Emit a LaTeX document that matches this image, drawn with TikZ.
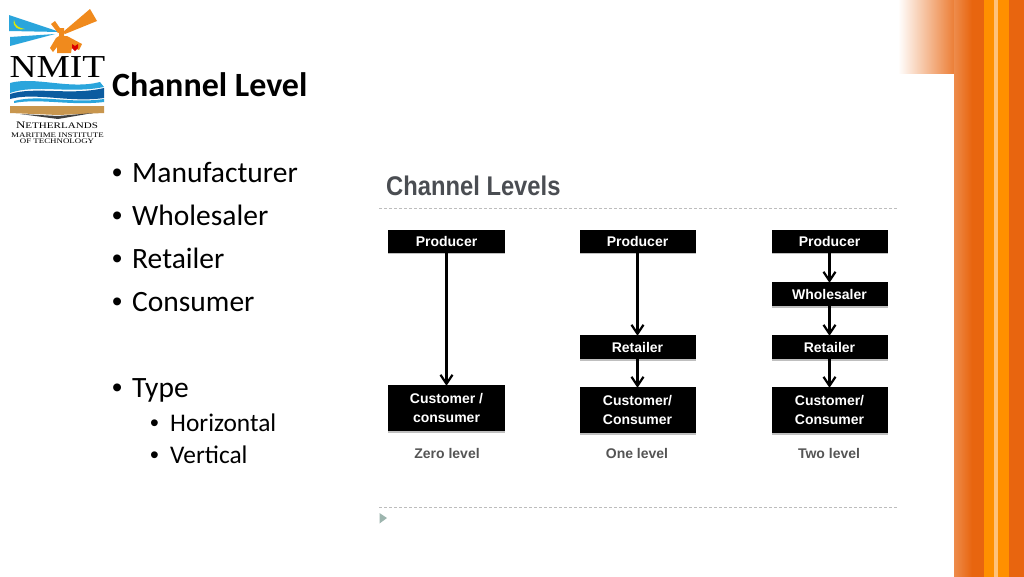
\documentclass[tikz,border=0pt]{standalone}
\usepackage{fontspec}
\setmainfont{Carlito}
\newfontfamily\diagfont{Liberation Sans}
\newfontfamily\logofont{Liberation Serif}
\usetikzlibrary{calc,arrows.meta,shadows}
\definecolor{bandorange}{HTML}{E8650F}
\definecolor{stripeorange}{HTML}{FF9000}
\definecolor{stripelight}{HTML}{FFC27A}
\definecolor{beamcyan}{HTML}{2AA5DC}
\definecolor{lampdark}{HTML}{F08A1D}
\definecolor{wavedark}{HTML}{0B5CA0}
\definecolor{booktan}{HTML}{C8964E}
\definecolor{headgrey}{HTML}{4A4D52}
\definecolor{labelgrey}{HTML}{555555}
\definecolor{dashgrey}{HTML}{BDBDBD}
\definecolor{markgrey}{HTML}{9DB5AE}
\tikzset{
  levelbox/.style={fill=black, text=white, font=\diagfont\fontsize{14}{19}\selectfont\bfseries, align=center,
    inner sep=0pt, drop shadow={shadow xshift=0pt, shadow yshift=-1.5pt, opacity=.25, fill=black}},
  levelname/.style={text=labelgrey, font=\diagfont\fontsize{14}{17}\selectfont\bfseries},
  bulletone/.style={anchor=base west, inner sep=0pt, font=\fontsize{29.5}{34}\selectfont},
  bullettwo/.style={anchor=base west, inner sep=0pt, font=\fontsize{25.4}{28}\selectfont},
  bulletdot/.style={anchor=base west, inner sep=0pt, font=\diagfont\fontsize{29}{34}\selectfont},
  subdot/.style={anchor=base west, inner sep=0pt, font=\diagfont\fontsize{25}{28}\selectfont},
  levelline/.style={dashgrey, densely dashed, line width=0.8pt},
  levelarrow/.style={-{Straight Barb[length=9pt,width=12pt,line width=2.2pt]}, line width=2.4pt, shorten >=-1pt}
}
\begin{document}
\begin{tikzpicture}[x=1pt, y=-1pt]
        \useasboundingbox (0,0) rectangle (1024,576);
        \fill[white] (0,0) rectangle (1024,580);

        % orange band on the right
        \shade[left color=white, right color=bandorange!85] (898,0) rectangle (955,73);
        \shade[left color=bandorange!75, right color=bandorange] (954,0) rectangle (972,580);
        \fill[bandorange] (972,0) rectangle (1026,580);
        \fill[stripeorange] (984,0) rectangle (1009,580);
        \fill[stripelight] (994,0) rectangle (998,580);

        % logo
        \fill[beamcyan] (9,15) -- (60,32) -- (9,31) -- cycle;
        \fill[beamcyan] (10,37) -- (55,34) -- (10,46) -- cycle;
        \fill[yellow!85!green] (14,20) .. controls (12,27) and (19,31) .. (25,29) .. controls (19,28) and (15,26) .. (14,20) -- cycle;
        \fill[lampdark] (63,32) -- (90,9) -- (97,21) -- (65,34) -- cycle;
        \fill[lampdark] (51,24) -- (55,21) -- (62,31) -- (58,33) -- cycle;
        \fill[lampdark] (59,28) -- (64,28) -- (64,36) -- (67,36) -- (82,44) -- (79,50) -- (72,47) -- (71,53) -- (57,53) -- (57,47) -- (53,52) -- (50,48) -- (56,38) -- (59,36) -- cycle;
        \fill[red!85!black] (72,44) -- (75,46) -- (78,44) -- (78,48) -- (75,51) -- (72,48) -- cycle;
        \node[inner sep=0pt, font=\logofont\fontsize{32}{32}\selectfont] (nmit) at (57.5,67) {\scalebox{1.17}[1]{NMIT}};
        \fill[beamcyan] (10,83) .. controls (35,76) and (70,90) .. (100,82) -- (104,87) .. controls (70,94) and (35,84) .. (10,93) -- cycle;
        \fill[wavedark] (10,94) .. controls (35,86) and (70,96) .. (104,88) -- (104,98) .. controls (70,103) and (35,92) .. (10,99) -- cycle;
        \fill[beamcyan] (14,101) .. controls (40,94) and (70,104) .. (104,99) -- (104,102) .. controls (70,106) and (40,98) .. (14,103) -- cycle;
        \fill[booktan] (10,106) -- (104,106) -- (104,113) -- (58,115) -- (10,113) -- cycle;
        \fill[black!75] (20,114) -- (58,116) -- (93,113) -- (58,119) -- cycle;
        \node[inner sep=0pt, font=\logofont\fontsize{10}{11}\selectfont] (nether) at (57,125) {\scalebox{1.3}[1]{N{\fontsize{8.5}{9}\selectfont ETHERLANDS}}};
        \node[inner sep=0pt, font=\logofont\fontsize{7}{7}\selectfont] (inst) at (57.5,135.5) {\scalebox{1.27}[1]{MARITIME INSTITUTE}};
        \node[inner sep=0pt, font=\logofont\fontsize{7}{7}\selectfont] (tech) at (57,141.5) {\scalebox{1.27}[1]{OF TECHNOLOGY}};

        % left text
        \node[anchor=base west, inner sep=0pt, font=\fontsize{34}{40}\selectfont\bfseries] (title) at (112,96) {Channel Level};
        \node[bulletdot] (b1) at (112,182) {•};
        \node[bulletone] (t1) at (132,182) {Manufacturer};
        \node[bulletdot] (b2) at (112,225) {•};
        \node[bulletone] (t2) at (132,225) {Wholesaler};
        \node[bulletdot] (b3) at (112,268) {•};
        \node[bulletone] (t3) at (132,268) {Retailer};
        \node[bulletdot] (b4) at (112,311) {•};
        \node[bulletone] (t4) at (132,311) {Consumer};
        \node[bulletdot] (b5) at (112,397) {•};
        \node[bulletone] (t5) at (132,397) {Type};
        \node[subdot] (b6) at (150,431) {•};
        \node[bullettwo] (t6) at (170,431) {Horizontal};
        \node[subdot] (b7) at (150,463) {•};
        \node[bullettwo] (t7) at (170,463) {Vertical};

        % channel levels figure
        \node[anchor=base west, inner sep=0pt, text=headgrey, font=\diagfont\fontsize{27}{30}\selectfont\bfseries] (head) at (386,195) {\scalebox{.88}[1]{Channel Levels}};
        \coordinate (ruleAl) at (379,208);
        \coordinate (ruleAr) at (897,208);
        \coordinate (ruleBl) at (379,507);
        \coordinate (ruleBr) at (897,507);
        \draw[levelline] (ruleAl) -- (ruleAr);
        \draw[levelline] (ruleBl) -- (ruleBr);
        \fill[markgrey] (379.5,513) -- (387,518) -- (379.5,523.5) -- cycle;

        \node[levelbox, minimum width=117pt, minimum height=23pt] (prodA) at (446.5,241) {Producer};
        \node[levelbox, minimum width=117pt, minimum height=46pt] (custA) at (446.5,408) {Customer /\\consumer};
        \node[levelname] (nameA) at (447,453) {Zero level};

        \node[levelbox, minimum width=116pt, minimum height=23pt] (prodB) at (637.5,241) {Producer};
        \node[levelbox, minimum width=116pt, minimum height=24pt] (retB) at (637.5,347) {Retailer};
        \node[levelbox, minimum width=116pt, minimum height=46pt] (custB) at (637.5,410) {Customer/\\Consumer};
        \node[levelname] (nameB) at (637,453) {One level};

        \node[levelbox, minimum width=116pt, minimum height=23pt] (prodC) at (829.5,241) {Producer};
        \node[levelbox, minimum width=116pt, minimum height=24pt] (wholeC) at (829.5,294) {Wholesaler};
        \node[levelbox, minimum width=116pt, minimum height=24pt] (retC) at (829.5,347) {Retailer};
        \node[levelbox, minimum width=116pt, minimum height=46pt] (custC) at (829.5,410) {Customer/\\Consumer};
        \node[levelname] (nameC) at (829,453) {Two level};

        \draw[levelarrow] (prodA) to (custA);
        \draw[levelarrow] (prodB) to (retB);
        \draw[levelarrow] (retB) to (custB);
        \draw[levelarrow] (prodC) to (wholeC);
        \draw[levelarrow] (wholeC) to (retC);
        \draw[levelarrow] (retC) to (custC);
      \end{tikzpicture}
\end{document}
